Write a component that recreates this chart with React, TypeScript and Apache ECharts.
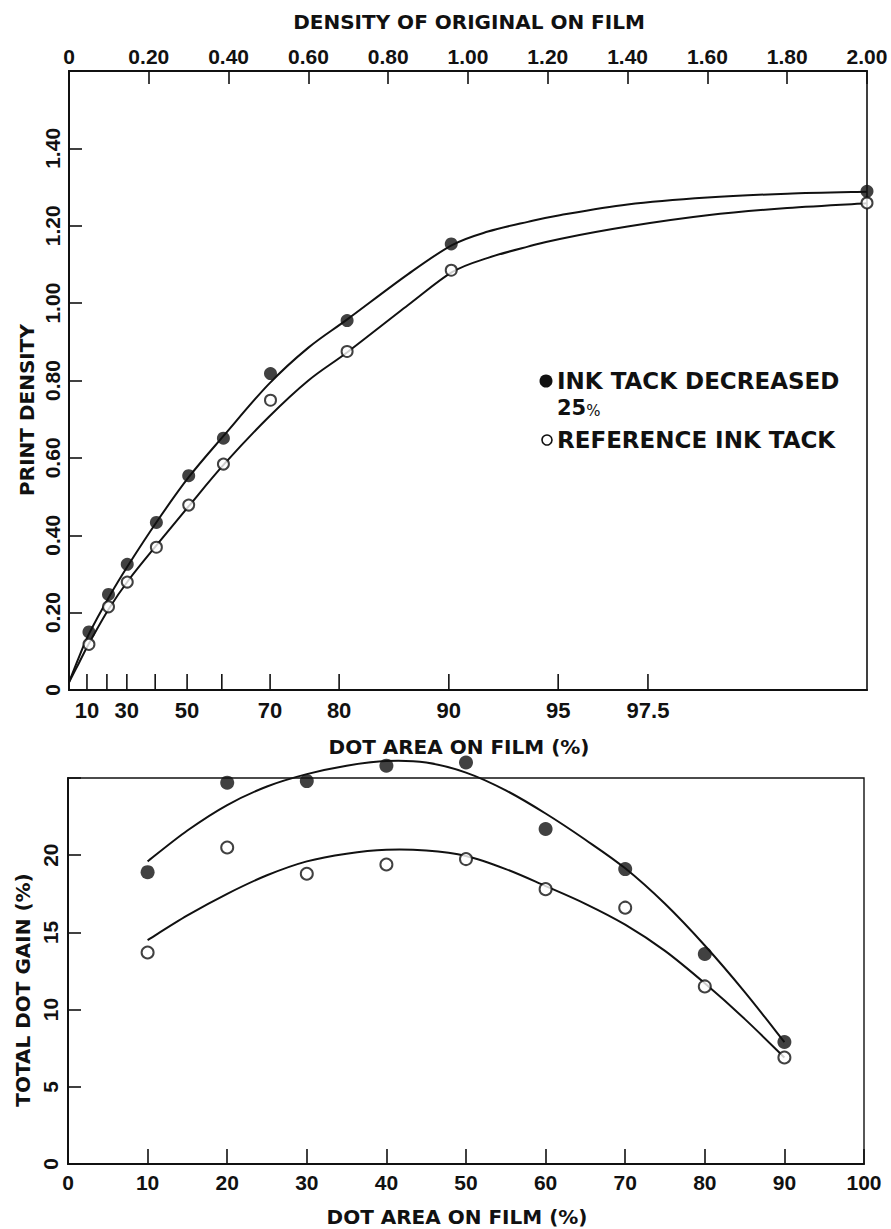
import React, { useEffect, useRef } from 'react';
import * as echarts from 'echarts';

// ---------- Upper chart: print density vs density of original ----------
const densityTickInterval = 0.2;
const densityMin = 0;
const densityMax = 2;
const printMin = 0;
const printMax = 1.6;
const printInterval = 0.2;

// dot-area scale drawn on the lower edge of the upper chart
const dotTickLabels = ['10', '20', '30', '40', '50', '60', '70', '80', '90', '95', '97.5'];
const dotTickDensity = [0.045, 0.095, 0.145, 0.216, 0.296, 0.383, 0.504, 0.677, 0.952, 1.226, 1.451];
const dotLabelled = ['10', '30', '50', '70', '80', '90', '95', '97.5'];

// measured points
const topPointDensity = [0.05, 0.099, 0.146, 0.219, 0.3, 0.387, 0.505, 0.697, 0.958, 2.0];
const topFilled = [0.15, 0.247, 0.325, 0.433, 0.554, 0.651, 0.818, 0.955, 1.153, 1.289];
const topOpen = [0.118, 0.215, 0.279, 0.369, 0.478, 0.584, 0.749, 0.875, 1.085, 1.259];

// fitted curves
const topFitDensity = [0, 0.025, 0.05, 0.1, 0.15, 0.22, 0.3, 0.39, 0.5, 0.6, 0.7, 0.85, 0.96, 1.05, 1.15, 1.23, 1.4, 1.6, 1.8, 2.0];
const topFilledFit = [0.02, 0.085, 0.145, 0.24, 0.325, 0.435, 0.55, 0.66, 0.79, 0.885, 0.96, 1.075, 1.15, 1.185, 1.21, 1.227, 1.255, 1.273, 1.283, 1.288];
const topOpenFit = [0.02, 0.07, 0.12, 0.21, 0.285, 0.375, 0.475, 0.585, 0.705, 0.8, 0.875, 0.995, 1.08, 1.117, 1.146, 1.166, 1.198, 1.227, 1.246, 1.258];

// ---------- Lower chart: total dot gain vs dot area ----------
const gainXMin = 0;
const gainXMax = 100;
const gainXInterval = 10;
const gainYMin = 0;
const gainYMax = 25;
const gainYInterval = 5;

const gainDotArea = [10, 20, 30, 40, 50, 60, 70, 80, 90];
const gainFilled = [18.9, 24.7, 24.8, 25.8, 26.0, 21.7, 19.1, 13.6, 7.9];
const gainOpen = [13.7, 20.5, 18.8, 19.4, 19.75, 17.8, 16.6, 11.5, 6.9];

const gainFitArea = [10, 15, 20, 25, 30, 35, 40, 45, 50, 55, 60, 65, 70, 75, 80, 85, 90];
const gainFilledFit = [19.6, 21.6, 23.25, 24.45, 25.25, 25.8, 26.1, 26.0, 25.35, 24.2, 22.7, 21.0, 19.15, 16.85, 14.15, 11.15, 7.9];
const gainOpenFit = [14.5, 16.1, 17.5, 18.7, 19.6, 20.1, 20.35, 20.3, 19.95, 19.1, 18.0, 16.85, 15.5, 13.8, 11.7, 9.4, 6.9];

// ---------- texts ----------
const topTitle = 'DENSITY OF ORIGINAL ON FILM';
const topXName = 'DOT AREA ON FILM (%)';
const topYName = 'PRINT DENSITY';
const bottomXName = 'DOT AREA ON FILM (%)';
const bottomYName = 'TOTAL DOT GAIN (%)';
const legendFilled1 = 'INK TACK DECREASED';
const legendFilled2 = '25';
const legendOpen = 'REFERENCE INK TACK';

const INK = '#111111';
const LABEL_FONT = '"Liberation Sans", Arial, sans-serif';
const NAME_FONT = '"DejaVu Sans", sans-serif';

const zip = (xs: number[], ys: number[]) => xs.map((x, i) => [x, ys[i]]);

// Catmull-Rom spline through pixel points, as an SVG path string
function splinePath(pts: number[][]): string {
  if (pts.length < 2) return '';
  let d = `M${pts[0][0]},${pts[0][1]}`;
  for (let i = 0; i < pts.length - 1; i++) {
    const p0 = pts[i - 1] || pts[i];
    const p1 = pts[i];
    const p2 = pts[i + 1];
    const p3 = pts[i + 2] || p2;
    const c1x = p1[0] + (p2[0] - p0[0]) / 6;
    const c1y = p1[1] + (p2[1] - p0[1]) / 6;
    const c2x = p2[0] - (p3[0] - p1[0]) / 6;
    const c2y = p2[1] - (p3[1] - p1[1]) / 6;
    d += ` C${c1x},${c1y} ${c2x},${c2y} ${p2[0]},${p2[1]}`;
  }
  return d;
}

export default function App() {
  const ref = useRef<HTMLDivElement>(null);

  useEffect(() => {
    if (!ref.current) return;
    const chart = echarts.init(ref.current, undefined, { renderer: 'svg' });

    const labelBase = {
      color: INK,
      fontFamily: LABEL_FONT,
      fontWeight: 'bold' as const,
      fontSize: 21,
    };
    const axisLine = { show: true, onZero: false, lineStyle: { color: INK, width: 2 } };
    const tick = (len: number) => ({ show: true, inside: true, length: len, lineStyle: { color: INK, width: 1.6 } });

    const dotLabelValues = dotLabelled.map((l) => dotTickDensity[dotTickLabels.indexOf(l)]);
    const dotFormatter = (v: number) => {
      const i = dotTickDensity.findIndex((d) => Math.abs(d - v) < 1e-6);
      return i >= 0 ? dotTickLabels[i] : '';
    };

    const nameStyle = (text: string, x: number, y: number, rot = 0) => ({
      type: 'text',
      x,
      y,
      rotation: rot,
      style: {
        text,
        fill: INK,
        font: `bold 20px ${NAME_FONT}`,
        textAlign: 'center',
        textVerticalAlign: 'middle',
      },
      z: 10,
    });

    // fitted curve: one custom item, drawn as a spline through the fit points via the axes' scales
    const curve = (xAxisIndex: number, yAxisIndex: number, xs: number[], ys: number[]) => ({
      type: 'custom', xAxisIndex, yAxisIndex,
      data: [[xs[0], ys[0]]],
      clip: false, silent: true, z: 2,
      renderItem: (_params: any, api: any) => {
        const pts = xs.map((x, i) => api.coord([x, ys[i]]));
        return {
          type: 'path',
          shape: { pathData: splinePath(pts) },
          style: { stroke: INK, lineWidth: 2, fill: 'none' },
        };
      },
    });

    const option: any = {
      animation: false,
      backgroundColor: '#ffffff',
      grid: [
        {
          left: 69, top: 71, width: 798, height: 619,
          show: true, borderColor: INK, borderWidth: 1.6, backgroundColor: 'transparent',
          containLabel: false, outerBoundsMode: 'none',
        },
        {
          left: 68, top: 778, width: 796, height: 386,
          show: true, borderColor: INK, borderWidth: 1.4, backgroundColor: 'transparent',
          containLabel: false, outerBoundsMode: 'none',
        },
      ],
      xAxis: [
        {
          gridIndex: 0, type: 'value', position: 'top',
          min: densityMin, max: densityMax, interval: densityTickInterval,
          axisLine, axisTick: tick(13), splitLine: { show: false },
          axisLabel: {
            ...labelBase, margin: 4,
            formatter: (v: number) => (v === 0 ? '0' : v.toFixed(2)),
          },
        },
        {
          gridIndex: 0, type: 'value', position: 'bottom',
          min: densityMin, max: densityMax,
          axisLine, splitLine: { show: false },
          axisTick: { show: false },
          axisLabel: { ...labelBase, fontSize: 22, margin: 9, customValues: dotLabelValues, formatter: dotFormatter },
        },
        {
          gridIndex: 1, type: 'value', position: 'bottom',
          min: gainXMin, max: gainXMax, interval: gainXInterval,
          axisLine, axisTick: tick(15), splitLine: { show: false },
          axisLabel: { ...labelBase, margin: 8, formatter: (v: number) => String(v) },
        },
      ],
      yAxis: [
        {
          gridIndex: 0, type: 'value', position: 'left',
          min: printMin, max: printMax, interval: printInterval,
          axisLine, axisTick: tick(13), splitLine: { show: false },
          axisLabel: {
            ...labelBase, rotate: 90, margin: 6,
            formatter: (v: number) => (v === 0 ? '0' : v >= printMax - 1e-6 ? '' : v.toFixed(2)),
          },
        },
        {
          gridIndex: 1, type: 'value', position: 'left',
          min: gainYMin, max: gainYMax, interval: gainYInterval,
          axisLine, axisTick: tick(13), splitLine: { show: false },
          axisLabel: {
            ...labelBase, rotate: 90, margin: 7,
            formatter: (v: number) => (v >= gainYMax ? '' : String(v)),
          },
        },
      ],
      series: [
        // dot-area ticks on the lower edge of the upper chart, placed through the density scale
        {
          type: 'custom', xAxisIndex: 1, yAxisIndex: 0,
          data: dotTickDensity.map((d) => [d, printMin]),
          clip: false, silent: true, z: 5,
          renderItem: (_params: any, api: any) => {
            const p = api.coord([api.value(0), api.value(1)]);
            return {
              type: 'line',
              shape: { x1: p[0], y1: p[1], x2: p[0], y2: p[1] - 16 },
              style: { stroke: INK, lineWidth: 1.6 },
            };
          },
        },
        curve(0, 0, topFitDensity, topFilledFit),
        curve(0, 0, topFitDensity, topOpenFit),
        {
          type: 'scatter', xAxisIndex: 0, yAxisIndex: 0, data: zip(topPointDensity, topFilled),
          symbol: 'circle', symbolSize: 13, itemStyle: { color: INK }, z: 4, clip: false,
        },
        {
          type: 'scatter', xAxisIndex: 0, yAxisIndex: 0, data: zip(topPointDensity, topOpen),
          symbol: 'circle', symbolSize: 11,
          itemStyle: { color: '#ffffff', borderColor: INK, borderWidth: 2 }, z: 4, clip: false,
        },
        curve(2, 1, gainFitArea, gainFilledFit),
        curve(2, 1, gainFitArea, gainOpenFit),
        {
          type: 'scatter', xAxisIndex: 2, yAxisIndex: 1, data: zip(gainDotArea, gainFilled),
          symbol: 'circle', symbolSize: 14, itemStyle: { color: INK }, z: 4, clip: false,
        },
        {
          type: 'scatter', xAxisIndex: 2, yAxisIndex: 1, data: zip(gainDotArea, gainOpen),
          symbol: 'circle', symbolSize: 12,
          itemStyle: { color: '#ffffff', borderColor: INK, borderWidth: 2 }, z: 4, clip: false,
        },
      ],
      graphic: [
        nameStyle(topTitle, 469, 22),
        nameStyle(topXName, 459, 747),
        nameStyle(bottomXName, 457, 1217),
        nameStyle(topYName, 27, 410, Math.PI / 2),
        nameStyle(bottomYName, 23, 990, Math.PI / 2),
        {
          type: 'circle', shape: { cx: 546, cy: 381, r: 6.5 },
          style: { fill: INK }, z: 10,
        },
        {
          type: 'text', x: 557, y: 381,
          style: { text: legendFilled1, fill: INK, font: `bold 23px ${NAME_FONT}`, textAlign: 'left', textVerticalAlign: 'middle' },
          z: 10,
        },
        {
          type: 'text', x: 557, y: 408,
          style: {
            text: `{a|${legendFilled2}}{b|%}`,
            fill: INK,
            textAlign: 'left',
            textVerticalAlign: 'middle',
            rich: {
              a: { fontFamily: NAME_FONT, fontWeight: 'bold', fontSize: 21, fill: INK, color: INK },
              b: { fontFamily: NAME_FONT, fontWeight: 'normal', fontSize: 15, fill: INK, color: INK, verticalAlign: 'bottom' },
            },
          },
          z: 10,
        },
        {
          type: 'circle', shape: { cx: 547, cy: 440, r: 5 },
          style: { fill: '#ffffff', stroke: INK, lineWidth: 1.6 }, z: 10,
        },
        {
          type: 'text', x: 557, y: 440,
          style: { text: legendOpen, fill: INK, font: `bold 23px ${NAME_FONT}`, textAlign: 'left', textVerticalAlign: 'middle' },
          z: 10,
        },
      ],
    };

    chart.setOption(option);
    return () => chart.dispose();
  }, []);

  return (
    <div
      ref={ref}
      style={{ position: 'absolute', left: 0, top: 0, width: 891, height: 1229, background: '#ffffff' }}
    />
  );
}
